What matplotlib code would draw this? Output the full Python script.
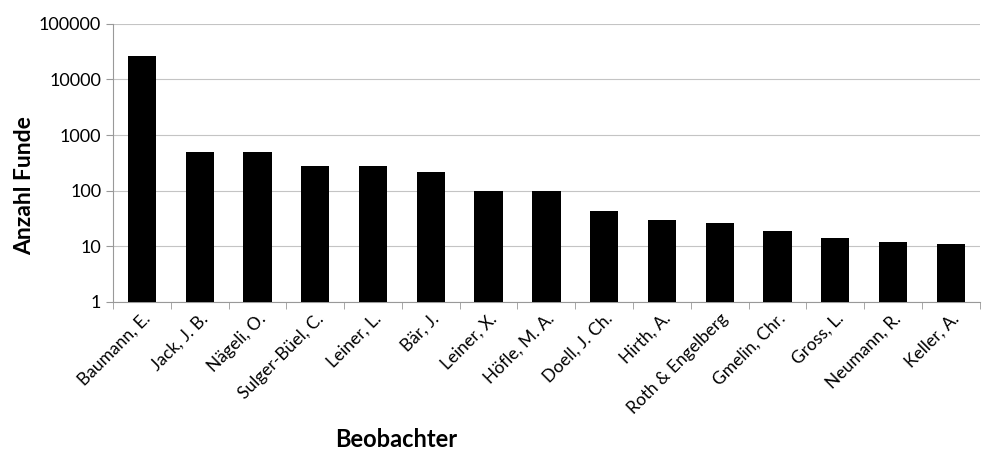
import matplotlib.pyplot as plt
import numpy as np

# Anzahl Funde pro Beobachter (log-Skala)
beobachter = ["Baumann, E.", "Jack, J. B.", "Nägeli, O.", "Sulger-Büel, C.", "Leiner, L.",
              "Bär, J.", "Leiner, X.", "Höfle, M. A.", "Doell, J. Ch.", "Hirth, A.",
              "Roth & Engelberg", "Gmelin, Chr.", "Gross, L.", "Neumann, R.", "Keller, A."]
funde = [26000, 490, 490, 280, 280, 220, 100, 100, 43, 30, 26, 19, 14, 12, 11]
y_ticks = [1, 10, 100, 1000, 10000, 100000]

plt.rcParams['font.family'] = ['Lato', 'DejaVu Sans']

fig = plt.figure(figsize=(9.85, 4.5), dpi=100)
ax = fig.add_axes([0.1147, 0.329, 0.88, 0.618])

x = np.arange(len(beobachter))
ax.bar(x, funde, width=0.49, color="black", zorder=3)

ax.set_yscale("log")
ax.set_ylim(1, 100000)
ax.set_yticks(y_ticks)
ax.set_yticklabels([str(t) for t in y_ticks])
ax.yaxis.set_minor_locator(plt.NullLocator())
ax.set_xlim(-0.5, len(beobachter) - 0.5)

ax.grid(axis="y", color="#c4c4c4", linewidth=0.8, zorder=0)
ax.set_xticks(x)
ax.set_xticklabels(beobachter, rotation=45, ha="right", rotation_mode="anchor", fontsize=12.5)
ax.tick_params(axis="x", length=0, pad=6)
ax.set_xticks(np.arange(len(beobachter) + 1) - 0.5, minor=True)
ax.tick_params(axis="x", which="minor", length=5, color="#999999")
ax.tick_params(axis="y", length=5, color="#999999", labelsize=13)

for side in ["top", "right"]:
    ax.spines[side].set_visible(False)
ax.spines["left"].set_color("#999999")
ax.spines["bottom"].set_color("#999999")

# Achsentitel wie im Original leicht aus der Mitte versetzt
ax.set_ylabel("Anzahl Funde", fontsize=16.5, fontweight="bold")
ax.yaxis.set_label_coords(-0.09, 0.417)
ax.set_xlabel("Beobachter", fontsize=17, fontweight="bold")
ax.xaxis.set_label_coords(0.327, -0.455)

fig.savefig("out.png", dpi=100)
